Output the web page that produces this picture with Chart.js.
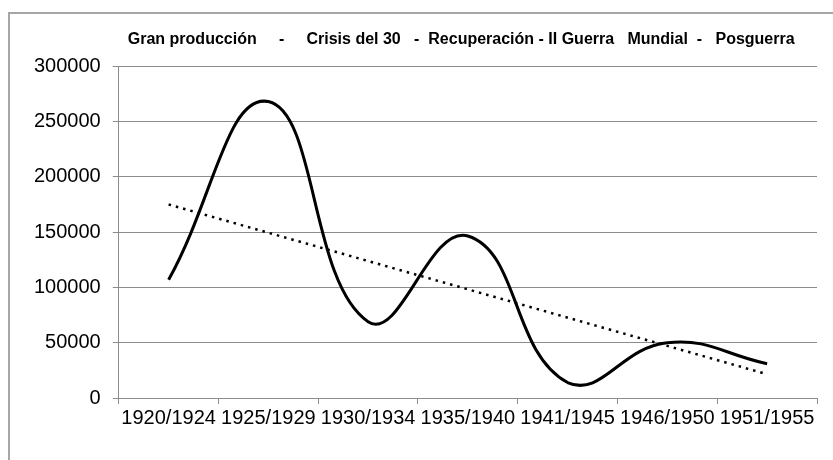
<!DOCTYPE html>
<html>
<head>
<meta charset="utf-8">
<script src="https://cdn.jsdelivr.net/npm/chart.js@4"></script>
<style>
  body { margin: 0; background: #fff; }
  #wrap { position: relative; width: 833px; height: 460px; overflow: hidden; }
  #frame { position: absolute; left: 8px; top: 12px; width: 900px; height: 520px; border: 2px solid #a6a6a6; pointer-events: none; }
</style>
</head>
<body>
<div id="wrap">
  <canvas id="prod-chart"></canvas>
  <div id="frame"></div>
</div>
<script>
// periodos (eje X)
const periodLabels = ['1920/1924', '1925/1929', '1930/1934', '1935/1940', '1941/1945', '1946/1950', '1951/1955']
// produccion
const production = [107000, 268000, 69000, 146500, 14000, 50000, 31000]
// linea de tendencia: solo los extremos
const trendPoints = [175000, null, null, null, null, null, 21500]
// eje Y
const yMin = 0
const yMax = 300000
const yStep = 50000

// los espacios repiten los del titulo original (y corrigen el centrado)
const chartTitle = 'Gran producción     -     Crisis del 30   -  Recuperación - II Guerra   Mundial  -   Posguerra   '

const ctx = document.getElementById('prod-chart')

new Chart(ctx, {
    type: 'line',
    data: {
        labels: periodLabels,
        datasets: [{
            label: 'Producción',
            data: production,
            borderColor: '#000',
            backgroundColor: '#000',
            borderWidth: 3,
            tension: 0.45,
            pointRadius: 0,
            fill: false
        }, {
            label: 'Tendencia',
            data: trendPoints,
            borderColor: '#000',
            borderWidth: 2.5,
            borderDash: [2.5, 5],
            spanGaps: true,
            tension: 0,
            pointRadius: 0,
            fill: false
        }]
    },
    options: {
        responsive: true,
        maintainAspectRatio: false,
        animation: false,
        layout: { padding: { left: 22, right: 16, top: 0, bottom: 28 } },
        plugins: {
            legend: { display: false },
            tooltip: { enabled: false },
            title: {
                display: true,
                fullSize: false,
                text: chartTitle,
                color: '#000',
                font: { family: "'Liberation Sans', Arial, sans-serif", size: 16, weight: 'bold' },
                padding: { top: 30, bottom: 17 }
            }
        },
        scales: {
            x: {
                offset: true,
                grid: { offset: true, drawOnChartArea: false, drawTicks: true, tickLength: 6, color: '#8c8c8c' },
                border: { color: '#8c8c8c' },
                ticks: {
                    autoSkip: false, maxRotation: 0, minRotation: 0, padding: 2,
                    color: '#000',
                    font: { family: "'Liberation Sans', Arial, sans-serif", size: 20 }
                }
            },
            y: {
                min: yMin,
                max: yMax,
                grid: { color: '#8c8c8c', tickLength: 6 },
                border: { color: '#8c8c8c' },
                ticks: {
                    stepSize: yStep, padding: 12,
                    color: '#000',
                    font: { family: "'Liberation Sans', Arial, sans-serif", size: 20 },
                    callback: (value) => String(value)
                }
            }
        }
    }
})
</script>
</body>
</html>
